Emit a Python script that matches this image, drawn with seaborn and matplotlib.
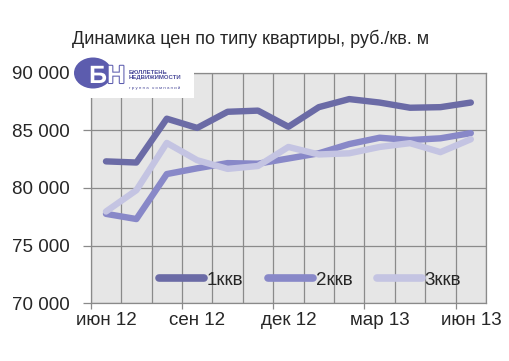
import numpy as np
import pandas as pd
import matplotlib
matplotlib.use("Agg")
import matplotlib.pyplot as plt
import seaborn as sns
from matplotlib.patches import Ellipse, Rectangle
import matplotlib.patheffects as pe

# данные
months = ["июн 12", "июл 12", "авг 12", "сен 12", "окт 12", "ноя 12", "дек 12",
          "янв 13", "фев 13", "мар 13", "апр 13", "май 13", "июн 13"]
kkv1 = [82300, 82200, 86000, 85200, 86600, 86700, 85300, 87000, 87700, 87400, 86950, 87000, 87400]
kkv2 = [77750, 77300, 81200, 81700, 82150, 82100, 82550, 83000, 83800, 84350, 84150, 84300, 84750]
kkv3 = [77950, 79800, 83900, 82400, 81650, 81900, 83550, 82900, 83000, 83550, 83880, 83100, 84220]
series = ["1ккв", "2ккв", "3ккв"]
colors = ["#6b6ba6", "#8888c8", "#c4c4e2"]
label_months = ["июн 12", "сен 12", "дек 12", "мар 13", "июн 13"]
yticks = [70000, 75000, 80000, 85000, 90000]

df = pd.DataFrame({
    "idx": list(range(len(months))) * 3,
    "value": kkv1 + kkv2 + kkv3,
    "series": sum([[s] * len(months) for s in series], []),
})

sns.set_style("white")
plt.rcParams["font.family"] = ["Liberation Sans", "DejaVu Sans"]

fig = plt.figure(figsize=(5.1, 3.61), dpi=100)
ax = fig.add_axes([0.178, 0.160, 0.775, 0.639])
ax.set_facecolor("#e6e6e6")

sns.lineplot(data=df, x="idx", y="value", hue="series", hue_order=series,
             palette=colors, linewidth=4.6, ax=ax, zorder=3)

ax.set_xlim(-0.5, len(months) - 0.5)
ax.set_ylim(yticks[0], yticks[-1])
ax.set_xlabel("")
ax.set_ylabel("")

# сетка по границам месяцев
ax.set_xticks(np.arange(-0.5, len(months), 1))
ax.set_xticklabels([])
ax.tick_params(axis="x", which="major", length=0)
lab_pos = [months.index(m) for m in label_months]
ax.set_xticks(lab_pos, minor=True)
ax.set_xticklabels(label_months, minor=True, fontsize=13.5)
ax.tick_params(axis="x", which="minor", length=0, pad=6)
ax.grid(axis="x", which="major", color="#8a8a8a", linewidth=0.9)

ax.set_yticks(yticks)
ax.set_yticklabels([f"{v:,}".replace(",", " ") for v in yticks], fontsize=13.5)
ax.tick_params(axis="y", length=6, width=0.9, color="#8a8a8a", pad=9, direction="out", left=True)
ax.grid(axis="y", color="#8a8a8a", linewidth=0.9)

# засечки внизу через квартал
sec = ax.secondary_xaxis("bottom")
sec.set_xticks([p - 0.5 for p in lab_pos])
sec.set_xticklabels([])
sec.tick_params(length=4, width=0.9, color="#8a8a8a", direction="out")
sec.spines["bottom"].set_visible(False)

for s in ax.spines.values():
    s.set_color("#8a8a8a")
    s.set_linewidth(0.9)

leg = ax.legend(loc="center", bbox_to_anchor=(0.555, 0.101), ncol=3, frameon=False,
                fontsize=13.5, handlelength=2.4, handletextpad=0.15, columnspacing=1.3,
                borderaxespad=0)
for h in leg.get_lines():
    h.set_linewidth(5.5)
    h.set_solid_capstyle("round")

fig.text(0.492, 0.893, "Динамика цен по типу квартиры, руб./кв. м",
         ha="center", va="center", fontsize=13)

# логотип
fig.add_artist(Rectangle((74 / 510, 1 - 98 / 361), 120 / 510, 41 / 361,
                         transform=fig.transFigure, facecolor="white", edgecolor="none", zorder=5))
fig.add_artist(Ellipse((93 / 510, 1 - 73 / 361), 38 / 510, 31 / 361,
                       transform=fig.transFigure, facecolor="#5c5cae", edgecolor="none", zorder=6))
fig.text(107 / 510, 1 - 76 / 361, "БН", ha="center", va="center", fontsize=18,
         fontweight="bold", color="white", zorder=7,
         path_effects=[pe.withStroke(linewidth=1.5, foreground="#5c5cae")])
fig.text(129 / 510, 1 - 72 / 361, "БЮЛЛЕТЕНЬ", ha="left", va="center", fontsize=4.3,
         fontweight="bold", color="#4a4a9a", zorder=7)
fig.text(129 / 510, 1 - 78 / 361, "НЕДВИЖИМОСТИ", ha="left", va="center", fontsize=4.3,
         fontweight="bold", color="#4a4a9a", zorder=7)
fig.text(129 / 510, 1 - 87.5 / 361, "г р у п п а   к о м п а н и й", ha="left", va="center",
         fontsize=3.2, color="#4a4a9a", zorder=7)

fig.savefig("out.png", dpi=100, facecolor="white")
